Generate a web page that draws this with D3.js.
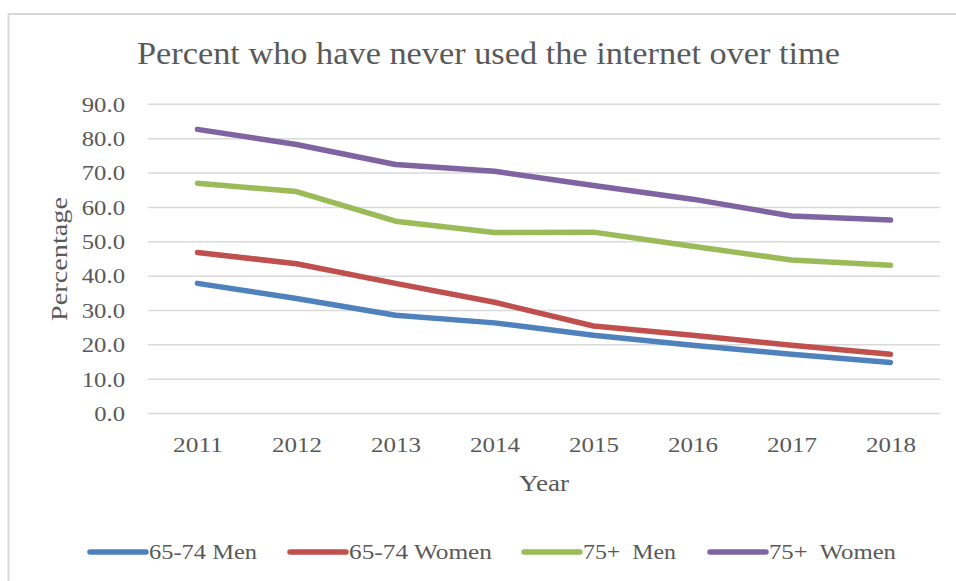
<!DOCTYPE html>
<html>
<head>
<meta charset="utf-8">
<script src="https://cdn.jsdelivr.net/npm/d3@7"></script>
<style>
  html, body { margin: 0; padding: 0; background: #ffffff; }
  svg { display: block; }
  text { font-family: "Liberation Serif", "DejaVu Serif", serif; fill: #595959; }
</style>
</head>
<body>
<svg id="chart" width="956" height="581"></svg>
<script>
// Survey years
const years = ["2011", "2012", "2013", "2014", "2015", "2016", "2017", "2018"];

// Percent who have never used the internet, per group
const men6574   = [37.9, 33.5, 28.6, 26.4, 22.8, 19.9, 17.3, 14.9];
const women6574 = [46.9, 43.6, 37.9, 32.4, 25.5, 22.8, 19.9, 17.3];
const men75     = [67.0, 64.6, 56.0, 52.7, 52.8, 48.7, 44.7, 43.2];
const women75   = [82.7, 78.3, 72.5, 70.5, 66.4, 62.4, 57.5, 56.3];

const seriesNames  = ["65-74 Men", "65-74 Women", "75+  Men", "75+  Women"];
const seriesColors = ["#4f81bd", "#c0504d", "#9bbb59", "#8064a2"];
const yTicks = [0, 10, 20, 30, 40, 50, 60, 70, 80, 90];

const series = [men6574, women6574, men75, women75].map((values, i) => ({
  name: seriesNames[i],
  color: seriesColors[i],
  values: values.map((v, j) => ({ year: years[j], value: v }))
}));

const svg = d3.select("#chart");

// Width a label set in the wide serif would take: digits are wider than the dot
const labelWidth = s => Array.from(s).reduce((w, c) => w + (c === "." ? 5.8 : 12.5), 0);

// Chart area frame
svg.append("rect")
  .attr("x", 8.5).attr("y", 14)
  .attr("width", 960).attr("height", 580)
  .attr("fill", "#ffffff")
  .attr("stroke", "#d9d9d9").attr("stroke-width", 2);

const plot = { left: 148, right: 940, top: 104.3, bottom: 413.6 };

const x = d3.scalePoint().domain(years).range([plot.left, plot.right]).padding(0.5);
const y = d3.scaleLinear().domain([0, 90]).range([plot.bottom, plot.top]);

// Horizontal gridlines
svg.append("g")
  .selectAll("line")
  .data(yTicks)
  .join("line")
  .attr("x1", plot.left).attr("x2", plot.right)
  .attr("y1", d => y(d)).attr("y2", d => y(d))
  .attr("stroke", "#d9d9d9").attr("stroke-width", 1.5);

// Y axis labels
const yFmt = d3.format(".1f");
const yAxis = d3.axisLeft(y).tickValues(yTicks).tickFormat(yFmt).tickSize(0).tickPadding(0);
const yg = svg.append("g").attr("transform", "translate(125,0)").call(yAxis);
yg.select(".domain").remove();
yg.selectAll("text")
  .attr("font-family", "Liberation Serif, DejaVu Serif, serif")
  .attr("font-size", 20).attr("fill", "#595959")
  .attr("dy", "0.34em")
  .attr("textLength", d => labelWidth(yFmt(d)))
  .attr("lengthAdjust", "spacingAndGlyphs");

// X axis labels
const xAxis = d3.axisBottom(x).tickSize(0).tickPadding(0);
const xg = svg.append("g").attr("transform", `translate(0,${plot.bottom})`).call(xAxis);
xg.select(".domain").remove();
xg.selectAll("text")
  .attr("font-family", "Liberation Serif, DejaVu Serif, serif")
  .attr("font-size", 20).attr("fill", "#595959")
  .attr("dy", 0).attr("y", 38)
  .attr("textLength", d => labelWidth(d))
  .attr("lengthAdjust", "spacingAndGlyphs");

// Series lines
const line = d3.line().x(d => x(d.year)).y(d => y(d.value));
svg.append("g")
  .selectAll("path")
  .data(series)
  .join("path")
  .attr("d", d => line(d.values))
  .attr("fill", "none")
  .attr("stroke", d => d.color)
  .attr("stroke-width", 5.5)
  .attr("stroke-linecap", "round")
  .attr("stroke-linejoin", "round");

// Title
svg.append("text")
  .attr("x", 137).attr("y", 64)
  .attr("font-size", 31)
  .attr("textLength", 703).attr("lengthAdjust", "spacingAndGlyphs")
  .text("Percent who have never used the internet over time");

// Axis titles
svg.append("text")
  .attr("x", (plot.left + plot.right) / 2).attr("y", 491)
  .attr("text-anchor", "middle").attr("font-size", 23)
  .attr("textLength", 50).attr("lengthAdjust", "spacingAndGlyphs")
  .text("Year");

svg.append("text")
  .attr("transform", `translate(67,${(plot.top + plot.bottom) / 2}) rotate(-90)`)
  .attr("text-anchor", "middle").attr("font-size", 23)
  .attr("textLength", 124).attr("lengthAdjust", "spacingAndGlyphs")
  .text("Percentage");

// Legend
const legendX = [88, 288, 522, 708];
const legendW = [108, 143, 93, 127];
const legend = svg.append("g")
  .selectAll("g")
  .data(series)
  .join("g")
  .attr("transform", (d, i) => `translate(${legendX[i]},552)`);
legend.append("line")
  .attr("x1", 2).attr("x2", 58).attr("y1", 0).attr("y2", 0)
  .attr("stroke", d => d.color).attr("stroke-width", 5.5)
  .attr("stroke-linecap", "round");
legend.append("text")
  .attr("x", 61).attr("y", 7)
  .attr("font-size", 21)
  .style("white-space", "pre")
  .attr("textLength", (d, i) => legendW[i]).attr("lengthAdjust", "spacingAndGlyphs")
  .text(d => d.name);
</script>
</body>
</html>
